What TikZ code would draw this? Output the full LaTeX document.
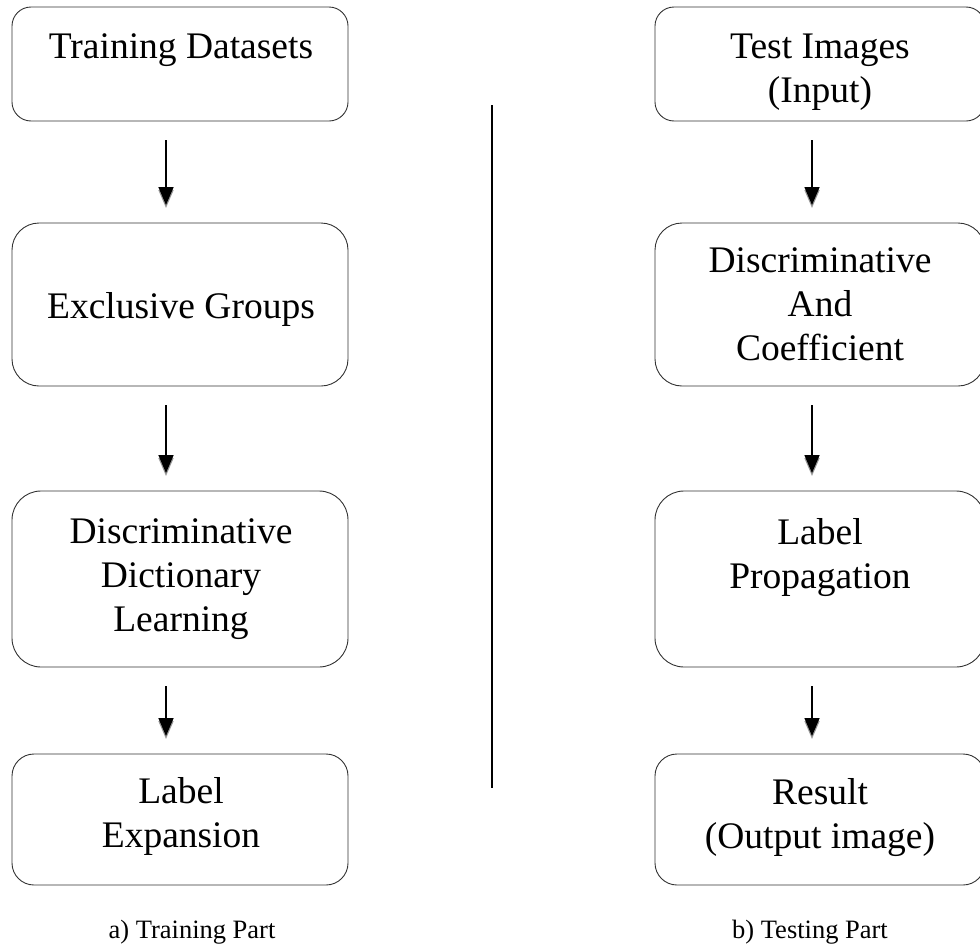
\documentclass[tikz,border=0pt]{standalone}
\usepackage{fontspec}
\setmainfont{Liberation Serif}
\usetikzlibrary{arrows.meta,calc}
\tikzset{
  box/.style={draw=black!80, line width=0.9pt, rounded corners=#1, inner sep=0pt, outer sep=0pt},
  box/.default=20pt,
  txt/.style={anchor=base, align=center, inner sep=0pt, font=\fontsize{37.5}{43.6}\selectfont},
  captiontext/.style={anchor=base, inner sep=0pt, font=\fontsize{26.5}{30}\selectfont},
  flow/.style={line width=1.6pt, -{Triangle[width=15pt,length=18pt]}},
  flowshadow/.style={line width=1.6pt, draw=black!40, -{Triangle[width=15pt,length=18pt]}},
  divider/.style={line width=1.8pt, black}
}
\begin{document}
\begin{tikzpicture}[x=1pt,y=-1pt]
\useasboundingbox (0,0) rectangle (980,945);
% left column boxes
\node[box=19pt, minimum width=336, minimum height=114] (L1) at (180,64) {};
\node[box=27pt, minimum width=336, minimum height=163] (L2) at (180,304.5) {};
\node[box=29pt, minimum width=336, minimum height=176] (L3) at (180,579) {};
\node[box=22pt, minimum width=336, minimum height=131] (L4) at (180,819.5) {};
% right column boxes
\node[box=19pt, minimum width=330, minimum height=114] (R1) at (820,64) {};
\node[box=27pt, minimum width=330, minimum height=163] (R2) at (820,304.5) {};
\node[box=29pt, minimum width=330, minimum height=176] (R3) at (820,579) {};
\node[box=22pt, minimum width=330, minimum height=131] (R4) at (820,819.5) {};
% texts (anchor = baseline of the last line)
\node[txt] (tL1) at (181,58) {Training Datasets};
\node[txt] (tL2) at (181,318) {Exclusive Groups};
\node[txt] (tL3) at (181,631) {Discriminative\\Dictionary\\Learning};
\node[txt] (tL4) at (181,847) {Label\\Expansion};
\node[txt] (tR1) at (820,102) {Test Images\\(Input)};
\node[txt] (tR2) at (820,360) {Discriminative\\And\\Coefficient};
\node[txt] (tR3) at (820,588) {Label\\Propagation};
\node[txt] (tR4) at (820,848) {Result\\(Output image)};
% captions
\node[captiontext] (capA) at (192,938) {a) Training Part};
\node[captiontext] (capB) at (810,938) {b) Testing Part};
% divider
\coordinate (dTop) at (492,105);
\coordinate (dBot) at (492,788);
\draw[divider] (dTop) -- (dBot);
% arrows (left, x = 166)
\foreach \a/\b in {L1/L2,L2/L3,L3/L4}{
  \draw[flowshadow] ($(\a.south)+(-14,19)$) -- ($(\b.north)+(-14,-15)$);
  \draw[flow] ($(\a.south)+(-14,19)$) -- ($(\b.north)+(-14,-18)$);
}
% arrows (right, x = 812)
\foreach \a/\b in {R1/R2,R2/R3,R3/R4}{
  \draw[flowshadow] ($(\a.south)+(-8,19)$) -- ($(\b.north)+(-8,-15)$);
  \draw[flow] ($(\a.south)+(-8,19)$) -- ($(\b.north)+(-8,-18)$);
}
\end{tikzpicture}
\end{document}
